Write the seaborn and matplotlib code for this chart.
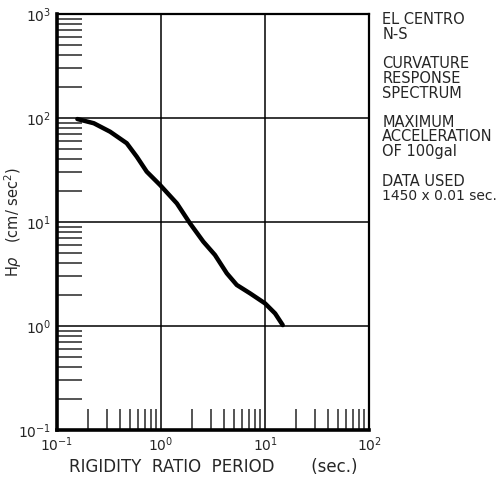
import numpy as np
import pandas as pd
import matplotlib
matplotlib.use("Agg")
import matplotlib.pyplot as plt
import matplotlib.ticker as mticker
import seaborn as sns

# curvature response spectrum
period = [0.157, 0.226, 0.324, 0.468, 0.584, 0.728, 0.978, 1.42, 1.90, 2.55,
          3.30, 4.29, 5.35, 7.18, 10.0, 12.5, 14.8]
h_rho = [97.7, 89, 73.8, 57.2, 42.5, 30.5, 22.7, 15.1, 9.7, 6.47,
         4.82, 3.21, 2.48, 2.06, 1.65, 1.32, 1.02]

notes = [
    ["EL CENTRO", "N-S"],
    ["CURVATURE", "RESPONSE", "SPECTRUM"],
    ["MAXIMUM", "ACCELERATION", "OF 100gal"],
    ["DATA USED", "1450 x 0.01 sec."],
]

sns.set_style("white")
plt.rcParams['font.family'] = ['DejaVu Sans']

df = pd.DataFrame({"T": period, "H": h_rho})

fig = plt.figure(figsize=(5.01, 4.79), dpi=100)
ax = fig.add_axes([0.1138, 0.1023, 0.6228, 0.8685])

sns.lineplot(data=df, x="T", y="H", ax=ax, color="black", lw=3.2, sort=False,
             solid_joinstyle="round", solid_capstyle="round")

ax.set_xscale("log")
ax.set_yscale("log")
ax.set_xlim(0.1, 100)
ax.set_ylim(0.1, 1000)

for v in [1, 10]:
    ax.axvline(v, color="black", lw=1.1, zorder=0)
for v in [1, 10, 100]:
    ax.axhline(v, color="black", lw=1.1, zorder=0)

ax.xaxis.set_major_locator(mticker.FixedLocator([0.1, 1, 10, 100]))
ax.yaxis.set_major_locator(mticker.FixedLocator([0.1, 1, 10, 100, 1000]))
ax.xaxis.set_major_formatter(mticker.FixedFormatter([r"$10^{-1}$", r"$10^{0}$", r"$10^{1}$", r"$10^{2}$"]))
ax.yaxis.set_major_formatter(mticker.FixedFormatter([r"$10^{-1}$", r"$10^{0}$", r"$10^{1}$", r"$10^{2}$", r"$10^{3}$"]))
ax.xaxis.set_minor_locator(mticker.LogLocator(base=10, subs=np.arange(2, 10)))
ax.yaxis.set_minor_locator(mticker.LogLocator(base=10, subs=np.arange(2, 10)))
ax.xaxis.set_minor_formatter(mticker.NullFormatter())
ax.yaxis.set_minor_formatter(mticker.NullFormatter())

ax.tick_params(axis="both", which="major", length=0, labelsize=10, pad=4)
ax.tick_params(axis="x", which="minor", direction="in", length=15, width=1.1, bottom=True, top=False)
ax.tick_params(axis="y", which="minor", direction="in", length=18, width=1.1, left=True, right=False)

for side in ["left", "bottom"]:
    ax.spines[side].set_linewidth(2.6)
for side in ["top", "right"]:
    ax.spines[side].set_linewidth(1.6)
for s in ax.spines.values():
    s.set_color("black")

ax.set_xlabel("RIGIDITY  RATIO  PERIOD       (sec.)", fontsize=12, labelpad=3)
ax.set_ylabel(r"H$\rho$   (cm/ sec$^2$)", fontsize=10.5)
ax.yaxis.set_label_coords(-0.105, 0.5)

# note block on the right
y_px = 20
for block in notes:
    for line in block:
        fs = 10 if line.startswith("1450") else 10.5
        fig.text(0.763, 1 - y_px / 479, line, fontsize=fs, va="center", ha="left")
        y_px += 14.5
    y_px += 15

fig.savefig("out.png", dpi=100)
